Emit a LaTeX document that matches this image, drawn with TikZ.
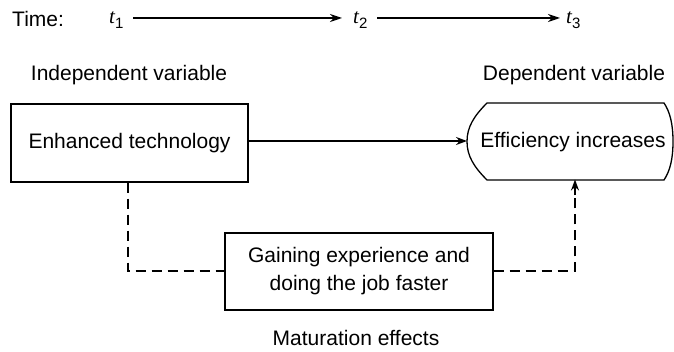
\documentclass[tikz,border=0pt]{standalone}
\usepackage{fontspec}
\setmainfont{Liberation Sans}
\newfontfamily\timefont{Liberation Serif}
\usetikzlibrary{arrows.meta,calc}
% time label: italic t with an upright index
\newcommand\tlab[1]{{\timefont\itshape t}\raisebox{-0.45ex}{\fontsize{15}{15}\selectfont #1}}
\begin{document}
\begin{tikzpicture}[x=1pt,y=-1pt,
  every node/.style={font=\fontsize{21}{28}\selectfont, inner sep=0pt},
  box/.style={draw, line width=1.3pt, align=center},
  flow/.style={line width=1.5pt, -{Stealth[length=11pt,width=8pt]}},
  dashflow/.style={line width=1.6pt, dash pattern=on 10pt off 6pt},
  tarrow/.style={line width=1.6pt, -{Stealth[length=12pt,width=8pt]}}]
\useasboundingbox (0,0) rectangle (674,352);
\fill[white] (0,0) rectangle (674,352);

% time axis
\node[anchor=west] (time) at (12,19) {Time:};
\node[anchor=west] (t1) at (109,20) {\tlab{1}};
\node[anchor=west] (t2) at (353,20) {\tlab{2}};
\node[anchor=west] (t3) at (566,20) {\tlab{3}};
\coordinate (a1s) at (133,18);
\coordinate (a1e) at (342,18);
\coordinate (a2s) at (377,18);
\coordinate (a2e) at (560,18);
\draw[tarrow] (a1s) -- (a1e);
\draw[tarrow] (a2s) -- (a2e);

% variable captions
\node (indep) at (129,75) {Independent variable};
\node (dep) at (574,75) {Dependent variable};

% independent variable box
\node[box, minimum width=237pt, minimum height=78pt] (tech) at (129.5,143) {Enhanced technology};

% dependent variable: outline with rounded sides
\node (eff) at (573,142) {Efficiency increases};
\coordinate (effW) at (467,141);
\coordinate (effS) at (575,179.5);
\draw[line width=1.3pt]
  (487,103) -- (664,103)
  .. controls (670,112) and (673,124) .. (673,141.5)
  .. controls (673,159) and (670,171) .. (664,180)
  -- (487,180)
  .. controls (474,167) and (467,156) .. (467,141.5)
  .. controls (467,127) and (474,116) .. (487,103) -- cycle;

\draw[flow] (tech.east |- effW) -- (effW);

% maturation path
\node[box, minimum width=268pt, minimum height=77pt] (gain) at (359,271.5)
  {Gaining experience and\\doing the job faster};
\node (mat) at (356,338) {Maturation effects};
\coordinate (c1) at (128,271);
\coordinate (c2) at (575,271);
\draw[dashflow] (tech.south -| c1) -- (c1) -- (gain.west |- c1);
\draw[dashflow] (gain.east |- c2) -- (c2) -- ($(effS)+(0,14)$);
\draw[flow] ($(effS)+(0,16)$) -- (effS);
\end{tikzpicture}
\end{document}
